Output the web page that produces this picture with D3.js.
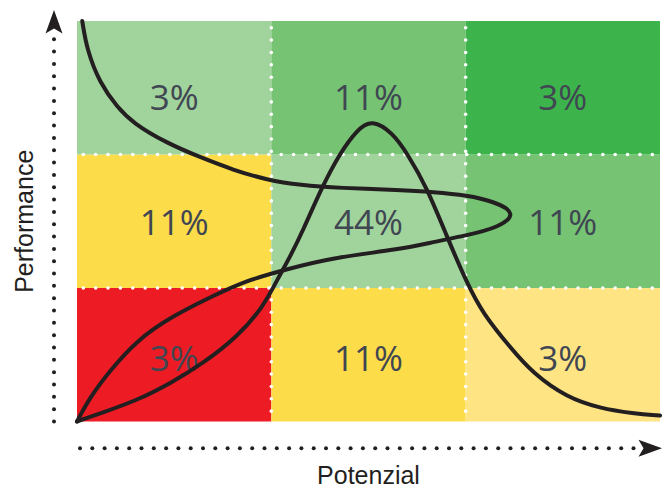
<!DOCTYPE html>
<html>
<head>
<meta charset="utf-8">
<script src="https://cdn.jsdelivr.net/npm/d3@7"></script>
<style>
  html, body { margin: 0; padding: 0; background: #ffffff; }
  svg { display: block; }
</style>
</head>
<body>
<svg id="chart" width="664" height="488"></svg>
<script>
// ---- data ----
const columns = ["low", "mid", "high"];           // Potenzial (left → right)
const rows = ["low", "mid", "high"];              // Performance (bottom → top)
// cell shares, rows listed bottom → top, columns left → right
const shareLow  = ["3%", "11%", "3%"];
const shareMid  = ["11%", "44%", "11%"];
const shareHigh = ["3%", "11%", "3%"];
const colorLow  = ["#ed1c24", "#fddc49", "#fee483"];
const colorMid  = ["#fddc49", "#a1d39c", "#75c373"];
const colorHigh = ["#a1d39c", "#75c373", "#3cb44b"];
const xTitle = "Potenzial";
const yTitle = "Performance";
// curve control points in percent of axis range (x: Potenzial 0–100, y: Performance 0–100)
const bellCurve = [
  [0,0],[4.5,2.3],[10.3,5.3],[16.0,9.5],[21.6,14.5],[27.4,21.0],[31.9,28.5],
  [34.3,35.3],[36.5,41.0],[38.8,47.8],[42.0,58.5],[45.1,67.0],[48.0,72.8],
  [50.6,75.5],[54.2,72.0],[56.6,67.0],[60.0,58.5],[63.5,46.0],[66.9,34.5],
  [69.6,27.0],[74.3,18.5],[78.2,12.0],[84.0,6.0],[89.7,3.3],[95.4,2.0],[100,1.5]
];
const loopCurve = [
  [0.9,100],[1.7,92.8],[3.9,84.5],[6.9,78.5],[9.6,74.5],[15.4,69.5],[21.1,66.0],
  [26.8,62.8],[32.6,60.3],[38.3,59.0],[45.1,58.3],[55.4,57.8],[61.1,57.3],
  [66.9,56.5],[71.6,54.9],[75.5,52.0],[72.3,48.4],[66.9,46.5],[61.1,44.8],
  [55.4,43.0],[43.4,40.8],[36.0,38.0],[29.2,35.3],[22.8,31.0],[16.0,26.0],
  [10.3,20.3],[5.7,12.8],[2.2,6.0],[0,0]
];

// ---- layout ----
const svg = d3.select("#chart");
const L = 77, R = 660, T = 21, B = 421.5;
const x = d3.scaleLinear().domain([0, 100]).range([L, R]);
const y = d3.scaleLinear().domain([0, 100]).range([B, T]);
const xb = d3.scaleBand().domain(columns).range([L, R]);
const yb = d3.scaleBand().domain(rows).range([B, T]);

const shares = [shareLow, shareMid, shareHigh];
const colors = [colorLow, colorMid, colorHigh];
const cells = [];
rows.forEach((r, ri) => columns.forEach((c, ci) => {
  cells.push({ r, c, ri, ci, share: shares[ri][ci], color: colors[ri][ci] });
}));

// cells
svg.append("g").selectAll("rect").data(cells).join("rect")
  .attr("x", d => xb(d.c))
  .attr("y", d => yb(d.r))
  .attr("width", xb.bandwidth())
  .attr("height", yb.bandwidth())
  .attr("fill", d => d.color);

// white dotted grid lines
const step = 12.37;
const gridG = svg.append("g").attr("fill", "#ffffff");
[yb("low"), yb("mid")].forEach(yy => {   // top edges of lower two rows
  d3.range(L + 6.3, R - 4, step).forEach(xx =>
    gridG.append("circle").attr("cx", xx).attr("cy", yy).attr("r", 1.8));
});
[xb("mid"), xb("high")].forEach(xx => {
  d3.range(T + 6.7, B - 4, step).forEach(yy =>
    gridG.append("circle").attr("cx", xx).attr("cy", yy).attr("r", 1.8));
});

// share labels
const nudge = [3, 0, 9];
svg.append("g").selectAll("text").data(cells).join("text")
  .attr("x", d => xb(d.c) + xb.bandwidth() / 2)
  .attr("y", d => yb(d.r) + yb.bandwidth() / 2 + nudge[d.ri])
  .attr("text-anchor", "middle")
  .attr("dominant-baseline", "central")
  .attr("font-family", "'Open Sans', 'Noto Sans', sans-serif")
  .attr("font-size", 35)
  .attr("fill", "#404652")
  .text(d => d.share);

// curves
const line = d3.line()
  .x(d => x(d[0])).y(d => y(d[1]))
  .curve(d3.curveBasis);
[bellCurve, loopCurve].forEach(pts => {
  svg.append("path")
    .attr("d", line(pts))
    .attr("fill", "none")
    .attr("stroke", "#231f20")
    .attr("stroke-width", 4)
    .attr("stroke-linecap", "round")
    .attr("stroke-linejoin", "round");
});

// dotted axes with arrowheads
const axisG = svg.append("g").attr("fill", "#231f20");
const yAxisX = 54, xAxisY = 448.3;
d3.range(B, 36, -12.33).forEach(yy =>
  axisG.append("circle").attr("cx", yAxisX).attr("cy", yy).attr("r", 2));
d3.range(80, 636, 12.3).forEach(xx =>
  axisG.append("circle").attr("cx", xx).attr("cy", xAxisY).attr("r", 2));
axisG.append("path")
  .attr("d", `M${yAxisX},10 L${yAxisX + 8.5},33.5 L${yAxisX},28.5 L${yAxisX - 8.5},33.5 Z`);
axisG.append("path")
  .attr("d", `M662,${xAxisY} L638.5,${xAxisY - 8.5} L643.5,${xAxisY} L638.5,${xAxisY + 8.5} Z`);

// axis titles
svg.append("text")
  .attr("x", (L + R) / 2).attr("y", 483.5)
  .attr("text-anchor", "middle")
  .attr("font-family", "'Liberation Sans', Arial, sans-serif")
  .attr("font-size", 25)
  .attr("fill", "#231f20")
  .text(xTitle);
svg.append("text")
  .attr("transform", `translate(33,${(T + B) / 2}) rotate(-90)`)
  .attr("text-anchor", "middle")
  .attr("font-family", "'Liberation Sans', Arial, sans-serif")
  .attr("font-size", 25)
  .attr("fill", "#231f20")
  .text(yTitle);
</script>
</body>
</html>
